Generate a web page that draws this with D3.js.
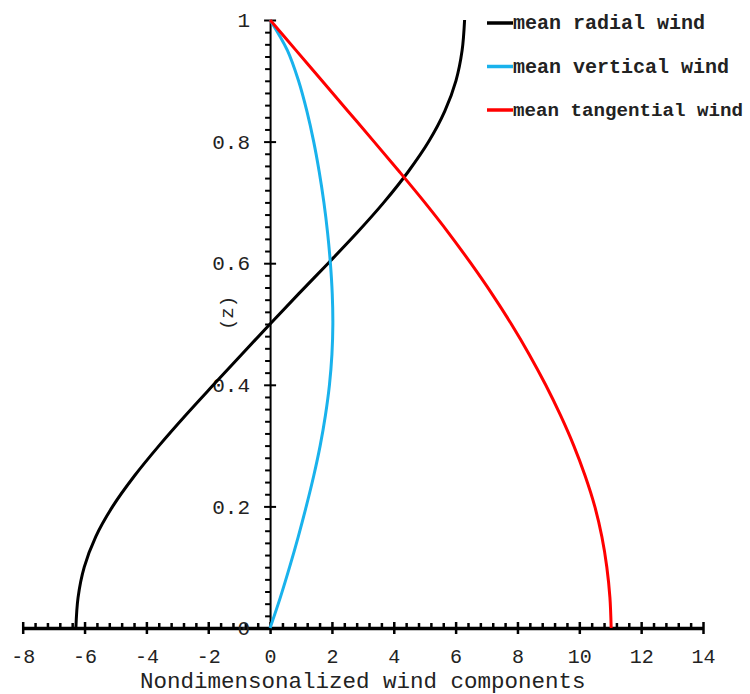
<!DOCTYPE html>
<html>
<head>
<meta charset="utf-8">
<script src="https://cdn.jsdelivr.net/npm/d3@7"></script>
<style>
  body { margin: 0; background: #fff; }
  svg text { font-family: "Courier New", "Liberation Mono", monospace; fill: #222; }
</style>
</head>
<body>
<div id="chart"></div>
<script>
// Data: z levels and wind component at each level
const zLevels = [0, 0.05, 0.1, 0.15, 0.2, 0.25, 0.3, 0.35, 0.4, 0.45, 0.5,
  0.55, 0.6, 0.65, 0.7, 0.75, 0.8, 0.85, 0.9, 0.95, 1];
const radialWind = [-6.28, -6.21, -6.01, -5.64, -5.09, -4.39, -3.59, -2.73, -1.83, -0.92, 0,
  0.93, 1.88, 2.81, 3.68, 4.46, 5.13, 5.65, 6.01, 6.21, 6.29];
const verticalWind = [0, 0.33, 0.63, 0.91, 1.17, 1.41, 1.62, 1.79, 1.92, 2.0, 2.03,
  2.01, 1.95, 1.86, 1.74, 1.59, 1.41, 1.19, 0.92, 0.56, 0];
const tangentialWind = [11.03, 10.99, 10.89, 10.73, 10.5, 10.19, 9.82, 9.39, 8.91, 8.38, 7.8,
  7.17, 6.49, 5.77, 5.0, 4.19, 3.36, 2.52, 1.68, 0.84, 0];

const seriesNames = ["mean radial wind", "mean vertical wind", "mean tangential wind"];
const seriesColors = ["#000000", "#19b2ec", "#ff0000"];

const xTickValues = [-8, -6, -4, -2, 0, 2, 4, 6, 8, 10, 12, 14];
const xTickLabels = ["-8", "-6", "-4", "-2", "0", "2", "4", "6", "8", "10", "12", "14"];
const yTickValues = [0, 0.2, 0.4, 0.6, 0.8, 1];
const yTickLabels = ["0", "0.2", "0.4", "0.6", "0.8", "1"];

const xTitle = "Nondimensonalized wind components";
const yTitle = "(z)";

// Set up
const width = 750, height = 694;
const fontMono = "'Courier New', 'Liberation Mono', monospace";

const svg = d3.select("#chart").append("svg")
  .attr("width", width)
  .attr("height", height);

const x = d3.scaleLinear().domain([-8, 14]).range([22.7, 703]);
const y = d3.scaleLinear().domain([0, 1]).range([628, 20]);

// minor tick positions (0.4 on x, 0.02 on y), skipping the majors
const xMinor = d3.range(0, 56).map(i => -8 + i * 0.4).filter(v => Math.abs(v / 2 - Math.round(v / 2)) > 1e-6);
const yMinor = d3.range(0, 51).map(i => i * 0.02).filter(v => Math.abs(v / 0.2 - Math.round(v / 0.2)) > 1e-6);

const data = [radialWind, verticalWind, tangentialWind].map((vals, k) => ({
  name: seriesNames[k],
  color: seriesColors[k],
  points: vals.map((v, i) => ({ v: v, z: zLevels[i] }))
}));

// x axis
const xg = svg.append("g").attr("transform", "translate(0," + y(0) + ")");

xg.append("g").attr("class", "x-minor")
  .call(d3.axisTop(x).tickValues(xMinor).tickSize(5).tickSizeOuter(0).tickFormat(""));
xg.append("g").attr("class", "x-major-up")
  .call(d3.axisTop(x).tickValues(xTickValues).tickSize(6).tickSizeOuter(0).tickFormat(""));
xg.append("g").attr("class", "x-major")
  .call(d3.axisBottom(x).tickValues(xTickValues).tickSize(6).tickSizeOuter(0).tickPadding(15)
    .tickFormat((d, i) => xTickLabels[i]));

xg.selectAll(".x-minor .domain, .x-major-up .domain").remove();
xg.selectAll(".x-major .domain").attr("stroke", "#000").attr("stroke-width", 3.5);
xg.selectAll("line").attr("stroke", "#000").attr("stroke-width", 2.5);
xg.selectAll("text")
  .attr("font-size", 20)
  .style("font-family", fontMono)
  .attr("fill", "#222");

// y axis
const yg = svg.append("g").attr("transform", "translate(" + x(0) + ",0)");

yg.append("g").attr("class", "y-minor")
  .call(d3.axisLeft(y).tickValues(yMinor).tickSize(5).tickSizeOuter(0).tickFormat(""));
yg.append("g").attr("class", "y-major-right")
  .call(d3.axisRight(y).tickValues(yTickValues).tickSize(6).tickSizeOuter(0).tickFormat(""));
yg.append("g").attr("class", "y-major")
  .call(d3.axisLeft(y).tickValues(yTickValues).tickSize(6).tickSizeOuter(0).tickPadding(14)
    .tickFormat((d, i) => yTickLabels[i]));

yg.selectAll(".y-minor .domain, .y-major-right .domain").remove();
yg.selectAll(".y-major .domain").attr("stroke", "#000").attr("stroke-width", 2);
yg.selectAll("line").attr("stroke", "#000").attr("stroke-width", 2);
yg.selectAll("text")
  .attr("font-size", 21)
  .style("font-family", fontMono)
  .attr("fill", "#222");

// axis titles
svg.append("text")
  .attr("x", 140)
  .attr("y", 688)
  .attr("font-size", 22.5)
  .text(xTitle);

svg.append("text")
  .attr("transform", "translate(233,313) rotate(-90)")
  .attr("text-anchor", "middle")
  .attr("font-size", 19)
  .text(yTitle);

// lines
const line = d3.line()
  .x(d => x(d.v))
  .y(d => y(d.z))
  .curve(d3.curveCatmullRom.alpha(0.5));

svg.append("g").selectAll("path")
  .data(data)
  .join("path")
  .attr("fill", "none")
  .attr("stroke", d => d.color)
  .attr("stroke-width", 3)
  .attr("d", d => line(d.points));

// legend
const legend = svg.append("g").selectAll("g")
  .data(data)
  .join("g")
  .attr("transform", (d, i) => "translate(487," + (23 + i * 43.5) + ")");

legend.append("line")
  .attr("x1", 0).attr("x2", 26)
  .attr("stroke", d => d.color)
  .attr("stroke-width", 3.5);

legend.append("text")
  .attr("x", 26)
  .attr("dy", "0.32em")
  .attr("font-size", 20)
  .attr("font-weight", "bold")
  .text(d => d.name)
  .each(function() {
    // shrink the long label so it stays inside the frame
    const len = this.getComputedTextLength();
    if (len > 230) {
      d3.select(this).attr("font-size", 20 * 230 / len);
    }
  });
</script>
</body>
</html>
